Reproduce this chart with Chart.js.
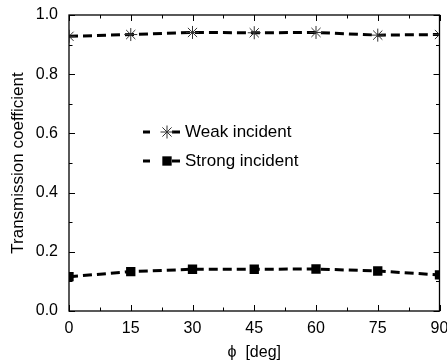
<!DOCTYPE html>
<html>
<head>
<meta charset="utf-8">
<script src="https://cdn.jsdelivr.net/npm/chart.js@4"></script>
<style>
  html, body { margin: 0; padding: 0; background: #fff; }
  #wrap { width: 447px; height: 363px; }
</style>
</head>
<body>
<div id="wrap"><canvas id="myChart"></canvas></div>
<script>
// --- data ---
const angles = [0, 15, 30, 45, 60, 75, 90];
const weakIncident = [0.928, 0.934, 0.941, 0.940, 0.941, 0.932, 0.934];
const strongIncident = [0.116, 0.133, 0.141, 0.141, 0.142, 0.135, 0.122];
const seriesNames = ['Weak incident', 'Strong incident'];
const xTickStep = 15;
const yTickStep = 0.2;

const FONT = 'Liberation Sans, Arial, Helvetica, sans-serif';

// frame, inward ticks and in-plot legend
const frameTicks = {
    id: 'frameTicks',
    afterDraw(chart) {
        const { ctx, chartArea: a, scales } = chart;
        const xs = scales.x, ys = scales.y;
        ctx.save();
        ctx.strokeStyle = '#000';
        ctx.lineWidth = 1.3;
        ctx.setLineDash([]);
        ctx.strokeRect(a.left, a.top, a.right - a.left, a.bottom - a.top);

        ctx.lineWidth = 1;
        ctx.beginPath();
        for (let v = 0; v <= 90 + 1e-6; v += xTickStep / 2) {
            const len = (Math.abs(v / xTickStep - Math.round(v / xTickStep)) < 1e-6) ? 6 : 3.5;
            const px = Math.round(xs.getPixelForValue(v)) + 0.5;
            ctx.moveTo(px, a.bottom); ctx.lineTo(px, a.bottom - len);
            ctx.moveTo(px, a.top); ctx.lineTo(px, a.top + len);
        }
        for (let v = 0; v <= 1 + 1e-6; v += yTickStep / 2) {
            const len = (Math.abs(v / yTickStep - Math.round(v / yTickStep)) < 1e-6) ? 6 : 3.5;
            const py = Math.round(ys.getPixelForValue(v)) + 0.5;
            ctx.moveTo(a.left, py); ctx.lineTo(a.left + len, py);
            ctx.moveTo(a.right, py); ctx.lineTo(a.right - len, py);
        }
        ctx.stroke();

        // legend
        const rows = [a.top + 117, a.top + 146];
        chart.data.datasets.forEach((ds, i) => {
            const y = rows[i];
            const x0 = a.left + 74;
            const cx = x0 + 24;
            ctx.strokeStyle = '#000';
            ctx.lineWidth = 3;
            ctx.beginPath();
            ctx.moveTo(x0, y); ctx.lineTo(x0 + 7, y);
            ctx.moveTo(x0 + 29, y); ctx.lineTo(x0 + 37, y);
            ctx.stroke();
            ctx.fillStyle = ds.pointBackgroundColor;
            ctx.strokeStyle = ds.pointBorderColor;
            ctx.lineWidth = 1;
            ctx.beginPath();
            if (ds.pointStyle === 'rect') {
                const s = ds.pointRadius * Math.SQRT1_2;
                ctx.fillRect(cx - s, y - s, 2 * s, 2 * s);
            } else {
                const r = ds.pointRadius;
                ctx.moveTo(cx - r, y); ctx.lineTo(cx + r, y);
                ctx.moveTo(cx, y - r); ctx.lineTo(cx, y + r);
                const d = r * Math.SQRT1_2;
                ctx.moveTo(cx - d, y - d); ctx.lineTo(cx + d, y + d);
                ctx.moveTo(cx - d, y + d); ctx.lineTo(cx + d, y - d);
                ctx.stroke();
            }
            ctx.fillStyle = '#000';
            ctx.font = '17px ' + FONT;
            ctx.textBaseline = 'middle';
            ctx.textAlign = 'left';
            ctx.fillText(ds.label, x0 + 42, y);
        });
        ctx.restore();
    }
};

const config = {
    type: 'line',
    data: {
        datasets: [
            {
                label: seriesNames[0],
                data: angles.map((x, i) => ({ x: x, y: weakIncident[i] })),
                borderColor: '#000',
                borderWidth: 3,
                borderDash: [9, 5],
                pointStyle: 'star',
                pointRadius: 6.5,
                pointBorderWidth: 1,
                pointBorderColor: '#333',
                pointBackgroundColor: '#333',
                tension: 0
            },
            {
                label: seriesNames[1],
                data: angles.map((x, i) => ({ x: x, y: strongIncident[i] })),
                borderColor: '#000',
                borderWidth: 3,
                borderDash: [9, 5],
                pointStyle: 'rect',
                pointRadius: 6.6,
                pointBorderWidth: 0,
                pointBorderColor: '#000',
                pointBackgroundColor: '#000',
                tension: 0
            }
        ]
    },
    options: {
        responsive: true,
        maintainAspectRatio: false,
        animation: false,
        layout: { padding: { top: 15, right: 4, left: 0, bottom: 0 } },
        plugins: {
            legend: { display: false },
            tooltip: { enabled: false }
        },
        scales: {
            x: {
                type: 'linear',
                min: 0, max: 90,
                grid: { display: false, drawTicks: false },
                border: { display: false },
                ticks: {
                    stepSize: xTickStep,
                    autoSkip: false,
                    maxRotation: 0,
                    padding: 8,
                    color: '#000',
                    font: { family: FONT, size: 16 }
                },
                title: {
                    display: true,
                    text: 'ϕ  [deg]',
                    color: '#000',
                    font: { family: FONT, size: 16 },
                    padding: { top: 0, bottom: 1 }
                },
                afterFit: s => { s.height = 52; s.paddingLeft = 0; s.paddingRight = 0; }
            },
            y: {
                min: 0, max: 1,
                grid: { display: false, drawTicks: false },
                border: { display: false },
                ticks: {
                    stepSize: yTickStep,
                    padding: 11,
                    color: '#000',
                    font: { family: FONT, size: 16 },
                    callback: v => v.toFixed(1)
                },
                title: {
                    display: true,
                    text: 'Transmission coefficient',
                    color: '#000',
                    font: { family: FONT, size: 17 },
                    padding: { top: 8, bottom: 0 }
                },
                afterFit: s => { s.width = 69; s.paddingTop = 0; s.paddingBottom = 0; }
            }
        }
    },
    plugins: [frameTicks]
};

const myChart = new Chart(document.getElementById('myChart').getContext('2d'), config);
</script>
</body>
</html>
